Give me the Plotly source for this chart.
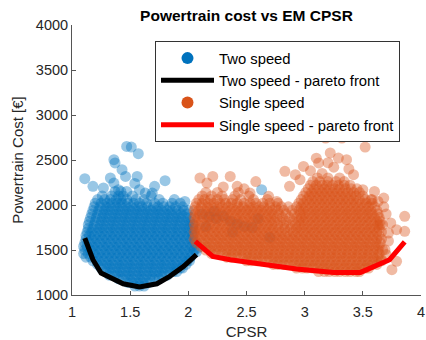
import plotly.graph_objects as go

# ---------------- data ----------------
# Two speed: dense cloud, rows of (cost, [CPSR values])
two_speed_rows = [
    (1100, [1.54, 1.58, 1.62]),
    (1140, [1.48, 1.52, 1.57, 1.61, 1.66]),
    (1180, [1.40, 1.44, 1.49, 1.53, 1.58, 1.62, 1.67, 1.71, 1.75]),
    (1220, [1.32, 1.37, 1.41, 1.46, 1.50, 1.55, 1.59, 1.64, 1.68, 1.73, 1.77, 1.82]),
    (1260, [1.29, 1.33, 1.38, 1.42, 1.47, 1.51, 1.56, 1.60, 1.65, 1.69, 1.74, 1.78, 1.83, 1.87, 1.90]),
    (1300, [1.25, 1.30, 1.34, 1.39, 1.43, 1.48, 1.52, 1.57, 1.61, 1.66, 1.70, 1.75, 1.79, 1.84, 1.88, 1.93, 1.95]),
    (1340, [1.22, 1.26, 1.31, 1.35, 1.40, 1.44, 1.49, 1.53, 1.58, 1.62, 1.67, 1.71, 1.76, 1.80, 1.85, 1.89, 1.94, 1.98]),
    (1380, [1.18, 1.23, 1.27, 1.32, 1.36, 1.41, 1.45, 1.50, 1.54, 1.59, 1.63, 1.68, 1.72, 1.77, 1.81, 1.86, 1.90, 1.95, 1.99, 2.01]),
    (1420, [1.12, 1.16, 1.21, 1.25, 1.30, 1.34, 1.39, 1.43, 1.48, 1.52, 1.57, 1.61, 1.66, 1.70, 1.75, 1.79, 1.84, 1.88, 1.93, 1.97, 2.02]),
    (1460, [1.10, 1.14, 1.19, 1.23, 1.28, 1.32, 1.37, 1.41, 1.46, 1.50, 1.55, 1.59, 1.64, 1.68, 1.73, 1.77, 1.82, 1.86, 1.91, 1.95, 2.00, 2.04]),
    (1500, [1.11, 1.16, 1.20, 1.25, 1.29, 1.34, 1.38, 1.43, 1.47, 1.52, 1.56, 1.61, 1.65, 1.70, 1.74, 1.79, 1.83, 1.88, 1.92, 1.97, 2.01, 2.05]),
    (1540, [1.10, 1.13, 1.18, 1.22, 1.27, 1.31, 1.36, 1.40, 1.45, 1.49, 1.54, 1.58, 1.63, 1.67, 1.72, 1.76, 1.81, 1.85, 1.90, 1.94, 1.99, 2.03]),
    (1580, [1.11, 1.15, 1.20, 1.24, 1.29, 1.33, 1.38, 1.42, 1.47, 1.51, 1.56, 1.60, 1.65, 1.69, 1.74, 1.78, 1.83, 1.87, 1.92, 1.96, 2.01, 2.05]),
    (1620, [1.12, 1.17, 1.21, 1.26, 1.30, 1.35, 1.39, 1.44, 1.48, 1.53, 1.57, 1.62, 1.66, 1.71, 1.75, 1.80, 1.84, 1.89, 1.93, 1.98, 2.02]),
    (1660, [1.12, 1.15, 1.19, 1.24, 1.28, 1.33, 1.37, 1.42, 1.46, 1.51, 1.55, 1.60, 1.64, 1.69, 1.73, 1.78, 1.82, 1.87, 1.91, 1.96, 2.00, 2.04]),
    (1700, [1.13, 1.17, 1.22, 1.26, 1.31, 1.35, 1.40, 1.44, 1.49, 1.53, 1.58, 1.62, 1.67, 1.71, 1.76, 1.80, 1.85, 1.89, 1.94, 1.98, 2.03]),
    (1740, [1.14, 1.18, 1.23, 1.27, 1.32, 1.36, 1.41, 1.45, 1.50, 1.54, 1.59, 1.63, 1.68, 1.72, 1.77, 1.81, 1.86, 1.90, 1.95, 1.99, 2.04]),
    (1780, [1.14, 1.19, 1.24, 1.28, 1.33, 1.37, 1.42, 1.46, 1.51, 1.55, 1.60, 1.64, 1.69, 1.73, 1.78, 1.82, 1.87, 1.91, 1.96, 2.00, 2.04]),
    (1820, [1.15, 1.20, 1.25, 1.29, 1.34, 1.38, 1.43, 1.47, 1.52, 1.56, 1.61, 1.65, 1.70, 1.74, 1.79, 1.83, 1.88, 1.92, 1.97, 2.01]),
    (1860, [1.16, 1.21, 1.26, 1.30, 1.35, 1.39, 1.44, 1.48, 1.53, 1.57, 1.62, 1.66, 1.71, 1.75, 1.80, 1.84, 1.89, 1.93, 1.98, 2.02]),
    (1900, [1.17, 1.22, 1.27, 1.31, 1.36, 1.40, 1.45, 1.49, 1.54, 1.58, 1.63, 1.67, 1.72, 1.76, 1.81, 1.85, 1.90, 1.94, 1.99]),
    (1940, [1.18, 1.23, 1.28, 1.32, 1.37, 1.41, 1.46, 1.50, 1.55, 1.59, 1.64, 1.68, 1.73, 1.77, 1.82, 1.86, 1.91, 1.96, 2.00]),
    (1980, [1.19, 1.24, 1.29, 1.33, 1.38, 1.42, 1.47, 1.51, 1.56, 1.60, 1.65, 1.70, 1.74, 1.79, 1.84, 1.89, 1.95]),
    (2020, [1.20, 1.25, 1.30, 1.34, 1.39, 1.43, 1.48, 1.53, 1.58, 1.64, 1.71, 1.78, 1.86, 1.93]),
    (2060, [1.22, 1.28, 1.33, 1.38, 1.42, 1.47, 1.55, 1.62, 1.75, 1.88]),
    (2100, [1.26, 1.34, 1.40, 1.44, 1.52, 1.68]),
    (2150, [1.37, 1.42, 1.47]),
]
# Two speed: scattered points
two_speed_extra_cpsr = [1.11, 1.18, 1.27, 1.36, 1.37, 1.47, 1.51, 1.57, 1.43, 1.46, 1.56, 1.58, 1.69,
                        1.71, 1.80, 1.97, 1.36, 1.40, 1.33, 1.63, 1.54,
                        2.12, 2.18, 2.24, 2.30, 2.36, 2.42, 2.48, 2.55, 2.22, 2.60, 2.63, 2.38, 2.70,
                        2.15, 2.07, 2.08]
two_speed_extra_cost = [2292, 2207, 2189, 2503, 2467, 2651, 2644, 2570, 2392, 2318, 2318, 2170, 2133,
                        2207, 2270, 2040, 2244, 2170, 2300, 2133, 2240,
                        1900, 1870, 1850, 1880, 1820, 1790, 1760, 1750, 1930, 1850, 2170, 1700, 1640,
                        1760, 1480, 1520]

# Single speed: dense cloud
single_speed_rows = [
    (1260, [3.12, 3.17, 3.21, 3.26, 3.30, 3.35, 3.39, 3.44, 3.47]),
    (1300, [2.93, 2.98, 3.02, 3.07, 3.11, 3.16, 3.20, 3.25, 3.29, 3.34, 3.38, 3.43, 3.47, 3.52, 3.55]),
    (1340, [2.73, 2.77, 2.82, 2.86, 2.91, 2.95, 3.00, 3.04, 3.09, 3.13, 3.18, 3.22, 3.27, 3.31, 3.36, 3.40,
            3.45, 3.49, 3.54, 3.58, 3.62]),
    (1380, [2.50, 2.54, 2.59, 2.63, 2.68, 2.72, 2.77, 2.81, 2.86, 2.90, 2.95, 2.99, 3.04, 3.08, 3.13, 3.17,
            3.22, 3.26, 3.31, 3.35, 3.40, 3.44, 3.49, 3.53, 3.58, 3.62, 3.66]),
    (1420, [2.33, 2.37, 2.42, 2.46, 2.51, 2.55, 2.60, 2.64, 2.69, 2.73, 2.78, 2.82, 2.87, 2.91, 2.96, 3.00,
            3.05, 3.09, 3.14, 3.18, 3.23, 3.27, 3.32, 3.36, 3.41, 3.45, 3.50, 3.54, 3.59, 3.63]),
    (1460, [2.20, 2.24, 2.29, 2.33, 2.38, 2.42, 2.47, 2.51, 2.56, 2.60, 2.65, 2.69, 2.74, 2.78, 2.83, 2.87,
            2.92, 2.96, 3.01, 3.05, 3.10, 3.14, 3.19, 3.23, 3.28, 3.32, 3.37, 3.41, 3.46, 3.50, 3.55, 3.59, 3.64]),
    (1500, [2.15, 2.19, 2.24, 2.28, 2.33, 2.37, 2.42, 2.46, 2.51, 2.55, 2.60, 2.64, 2.69, 2.73, 2.78, 2.82,
            2.87, 2.91, 2.96, 3.00, 3.05, 3.09, 3.14, 3.18, 3.23, 3.27, 3.32, 3.36, 3.41, 3.45, 3.50, 3.54,
            3.59, 3.63, 3.67]),
    (1540, [2.11, 2.16, 2.20, 2.25, 2.29, 2.34, 2.38, 2.43, 2.47, 2.52, 2.56, 2.61, 2.65, 2.70, 2.74, 2.79,
            2.83, 2.88, 2.92, 2.97, 3.01, 3.06, 3.10, 3.15, 3.19, 3.24, 3.28, 3.33, 3.37, 3.42, 3.46, 3.51,
            3.55, 3.60, 3.64]),
    (1580, [2.07, 2.12, 2.17, 2.21, 2.26, 2.30, 2.35, 2.39, 2.44, 2.48, 2.53, 2.57, 2.62, 2.66, 2.71, 2.75,
            2.80, 2.84, 2.89, 2.93, 2.98, 3.02, 3.07, 3.11, 3.16, 3.20, 3.25, 3.29, 3.34, 3.38, 3.43, 3.47,
            3.52, 3.56, 3.61, 3.65]),
    (1620, [2.05, 2.09, 2.14, 2.18, 2.23, 2.27, 2.32, 2.36, 2.41, 2.45, 2.50, 2.54, 2.59, 2.63, 2.68, 2.72,
            2.77, 2.81, 2.86, 2.90, 2.95, 2.99, 3.04, 3.08, 3.13, 3.17, 3.22, 3.26, 3.31, 3.35, 3.40, 3.44,
            3.49, 3.53, 3.58, 3.62, 3.66]),
    (1660, [2.06, 2.11, 2.15, 2.20, 2.24, 2.29, 2.33, 2.38, 2.42, 2.47, 2.51, 2.56, 2.60, 2.65, 2.69, 2.74,
            2.78, 2.83, 2.87, 2.92, 2.96, 3.01, 3.05, 3.10, 3.14, 3.19, 3.23, 3.28, 3.32, 3.37, 3.41, 3.46,
            3.50, 3.55, 3.59, 3.64]),
    (1700, [2.05, 2.08, 2.13, 2.17, 2.22, 2.26, 2.31, 2.35, 2.40, 2.44, 2.49, 2.53, 2.58, 2.62, 2.67, 2.71,
            2.76, 2.80, 2.85, 2.90, 2.94, 2.99, 3.03, 3.08, 3.12, 3.17, 3.21, 3.26, 3.30, 3.35, 3.39, 3.44,
            3.48, 3.53, 3.57, 3.62, 3.66]),
    (1740, [2.06, 2.10, 2.15, 2.19, 2.24, 2.28, 2.33, 2.37, 2.42, 2.46, 2.51, 2.55, 2.60, 2.64, 2.69, 2.73,
            2.78, 2.83, 2.88, 2.93, 2.97, 3.02, 3.06, 3.11, 3.15, 3.20, 3.24, 3.29, 3.33, 3.38, 3.42, 3.47,
            3.51, 3.56, 3.60, 3.64]),
    (1780, [2.05, 2.09, 2.14, 2.18, 2.23, 2.27, 2.32, 2.36, 2.41, 2.45, 2.50, 2.54, 2.59, 2.63, 2.68, 2.72,
            2.77, 2.82, 2.87, 2.92, 2.96, 3.00, 3.05, 3.09, 3.14, 3.18, 3.23, 3.27, 3.32, 3.36, 3.41, 3.45,
            3.50, 3.54, 3.59, 3.63, 3.67]),
    (1820, [2.06, 2.11, 2.16, 2.20, 2.25, 2.29, 2.34, 2.38, 2.43, 2.47, 2.52, 2.56, 2.61, 2.65, 2.70, 2.74,
            2.79, 2.84, 2.90, 2.95, 2.99, 3.03, 3.08, 3.12, 3.17, 3.21, 3.26, 3.30, 3.35, 3.39, 3.44, 3.48,
            3.53, 3.57, 3.62, 3.65]),
    (1860, [2.05, 2.08, 2.13, 2.17, 2.22, 2.26, 2.31, 2.35, 2.40, 2.44, 2.49, 2.53, 2.58, 2.62, 2.67, 2.71,
            2.76, 2.81, 2.87, 2.93, 2.97, 3.01, 3.06, 3.10, 3.15, 3.19, 3.24, 3.28, 3.33, 3.37, 3.42, 3.46,
            3.51, 3.55, 3.60, 3.64]),
    (1900, [2.06, 2.10, 2.15, 2.19, 2.24, 2.28, 2.33, 2.37, 2.42, 2.46, 2.51, 2.55, 2.60, 2.64, 2.69, 2.73,
            2.78, 2.84, 2.91, 2.96, 3.00, 3.04, 3.09, 3.13, 3.18, 3.22, 3.27, 3.31, 3.36, 3.40, 3.45, 3.49,
            3.54, 3.58, 3.63]),
    (1940, [2.05, 2.09, 2.14, 2.18, 2.23, 2.27, 2.32, 2.36, 2.41, 2.45, 2.50, 2.54, 2.59, 2.63, 2.68, 2.72,
            2.77, 2.82, 2.89, 2.95, 2.99, 3.03, 3.08, 3.12, 3.17, 3.21, 3.26, 3.30, 3.35, 3.39, 3.44, 3.48,
            3.53, 3.57, 3.62]),
    (1980, [2.06, 2.11, 2.16, 2.20, 2.25, 2.29, 2.34, 2.38, 2.43, 2.47, 2.52, 2.56, 2.61, 2.65, 2.70, 2.75,
            2.80, 2.86, 2.93, 2.97, 3.01, 3.06, 3.10, 3.15, 3.19, 3.24, 3.28, 3.33, 3.37, 3.42, 3.46, 3.51,
            3.55, 3.60]),
    (2020, [2.07, 2.12, 2.17, 2.22, 2.27, 2.32, 2.37, 2.42, 2.48, 2.53, 2.58, 2.64, 2.70, 2.77, 2.95, 2.99,
            3.04, 3.08, 3.13, 3.17, 3.22, 3.26, 3.31, 3.35, 3.40, 3.44, 3.49, 3.53, 3.58]),
    (2060, [2.09, 2.14, 2.19, 2.25, 2.31, 2.38, 2.45, 2.56, 2.68, 2.97, 3.02, 3.06, 3.11, 3.15, 3.20, 3.24,
            3.29, 3.33, 3.38, 3.42, 3.47, 3.52, 3.57]),
    (2100, [2.12, 2.20, 2.29, 2.40, 2.52, 2.99, 3.04, 3.08, 3.13, 3.17, 3.22, 3.26, 3.31, 3.35, 3.40, 3.44, 3.50]),
    (2140, [2.15, 2.25, 2.43, 3.01, 3.06, 3.10, 3.15, 3.19, 3.24, 3.28, 3.33, 3.37, 3.42, 3.47]),
    (2180, [3.03, 3.08, 3.12, 3.17, 3.21, 3.26, 3.30, 3.35, 3.40, 3.45]),
    (2220, [3.05, 3.10, 3.15, 3.19, 3.24, 3.29, 3.34, 3.39]),
    (2260, [3.07, 3.13, 3.20, 3.27, 3.34]),
    (2300, [3.11, 3.20, 3.30]),
]
# Single speed: scattered points
single_speed_extra_cpsr = [2.10, 2.21, 2.36, 2.42, 2.16, 2.53, 2.69, 2.76, 2.83, 2.92, 2.87, 2.96, 3.18, 3.32,
                           3.52, 3.22, 3.29, 3.36, 3.12, 2.99, 3.42, 3.50, 3.60, 3.68, 3.58, 3.86, 3.86, 3.79,
                           3.72, 3.79, 3.75, 3.66, 3.69, 3.65, 3.63, 3.05, 3.25, 3.15, 3.38, 3.70, 3.72, 3.70,
                           3.74, 3.68, 3.20, 3.10, 2.58, 2.30, 2.48]
single_speed_extra_cost = [2300, 2318, 2318, 2207, 2244, 2133, 2096, 2040, 2374, 2337, 2207, 2281, 2744, 2744,
                           2644, 2578, 2522, 2503, 2467, 2429, 2337, 2170, 2151, 2077, 2059, 1874, 1707, 1726,
                           1689, 1374, 1281, 1392, 1503, 1781, 2040, 2380, 2420, 2350, 2400, 1900, 1600, 1450,
                           1800, 1980, 2470, 2520, 2260, 2200, 2180]

# Pareto fronts
two_front_cpsr = [1.11, 1.18, 1.25, 1.33, 1.44, 1.58, 1.73, 1.84, 1.96, 2.07]
two_front_cost = [1633, 1392, 1244, 1192, 1125, 1089, 1125, 1207, 1318, 1448]
single_front_cpsr = [2.06, 2.21, 2.36, 2.64, 2.93, 3.25, 3.48, 3.73, 3.86]
single_front_cost = [1596, 1429, 1392, 1337, 1290, 1251, 1251, 1392, 1590]

x_ticks = [1, 1.5, 2, 2.5, 3, 3.5, 4]
y_ticks = [1000, 1500, 2000, 2500, 3000, 3500, 4000]


def flatten(rows, ex_x, ex_y):
    xs, ys = [], []
    for cost, cps in rows:
        for c in cps:
            xs.append(c)
            ys.append(cost)
    return xs + list(ex_x), ys + list(ex_y)


bx, by = flatten(two_speed_rows, two_speed_extra_cpsr, two_speed_extra_cost)
ox, oy = flatten(single_speed_rows, single_speed_extra_cpsr, single_speed_extra_cost)

BLUE = "#0072BD"
ORANGE = "#D95319"
FONT = "Liberation Sans, Arial, Helvetica, sans-serif"
TXT = "#262626"
MS = 11
OP = 0.4

fig = go.Figure()
fig.add_trace(go.Scatter(x=bx, y=by, mode="markers", showlegend=False, hoverinfo="skip",
                         marker=dict(color=BLUE, size=MS, opacity=OP, line=dict(width=0))))
fig.add_trace(go.Scatter(x=two_front_cpsr, y=two_front_cost, mode="lines", showlegend=False,
                         line=dict(color="black", width=5)))
fig.add_trace(go.Scatter(x=ox, y=oy, mode="markers", showlegend=False, hoverinfo="skip",
                         marker=dict(color=ORANGE, size=MS, opacity=OP, line=dict(width=0))))
fig.add_trace(go.Scatter(x=single_front_cpsr, y=single_front_cost, mode="lines", showlegend=False,
                         line=dict(color="#FF0000", width=5)))

# legend entries
fig.add_trace(go.Scatter(x=[None], y=[None], mode="markers", name="Two speed",
                         marker=dict(color=BLUE, size=12)))
fig.add_trace(go.Scatter(x=[None], y=[None], mode="lines", name="Two speed - pareto front",
                         line=dict(color="black", width=5)))
fig.add_trace(go.Scatter(x=[None], y=[None], mode="markers", name="Single speed",
                         marker=dict(color=ORANGE, size=12)))
fig.add_trace(go.Scatter(x=[None], y=[None], mode="lines", name="Single speed - pareto front",
                         line=dict(color="#FF0000", width=5)))

fig.update_layout(
    width=426, height=340,
    margin=dict(l=72, r=5, t=25, b=45),
    paper_bgcolor="white", plot_bgcolor="white",
    font=dict(family=FONT, color=TXT, size=14),
    title=dict(text="<b>Powertrain cost vs EM CPSR</b>", x=0.5, xref="paper", xanchor="center",
               y=1 - 16 / 340, yref="container", yanchor="middle",
               font=dict(family=FONT, size=15.5, color="black")),
    legend=dict(x=(155 - 72) / 349, y=(295 - 41) / 270, xanchor="left", yanchor="top",
                bgcolor="white", bordercolor="#333333", borderwidth=1,
                font=dict(family=FONT, size=14.8, color="black"), itemwidth=53,
                tracegroupgap=0),
    xaxis=dict(range=[1, 4], tickvals=x_ticks, ticktext=[str(v) for v in x_ticks],
               showgrid=False, zeroline=False, showline=True, linecolor="#555555", linewidth=1,
               ticks="inside", ticklen=4, tickcolor="#555555", tickfont=dict(size=14.5, color=TXT),
               automargin=False, ticklabelstandoff=4,
               title=dict(text="CPSR", font=dict(size=15, color=TXT), standoff=12)),
    yaxis=dict(range=[1000, 4000], tickvals=y_ticks,
               showgrid=False, zeroline=False, showline=True, linecolor="#555555", linewidth=1,
               ticks="inside", ticklen=4, tickcolor="#555555", tickfont=dict(size=14.5, color=TXT),
               automargin=False,
               title=dict(text="Powertrain Cost [€]", font=dict(size=15, color=TXT), standoff=8)),
)

fig.write_html("out.html", config={"displayModeBar": False},
               post_script="document.body.style.margin='0px';")
